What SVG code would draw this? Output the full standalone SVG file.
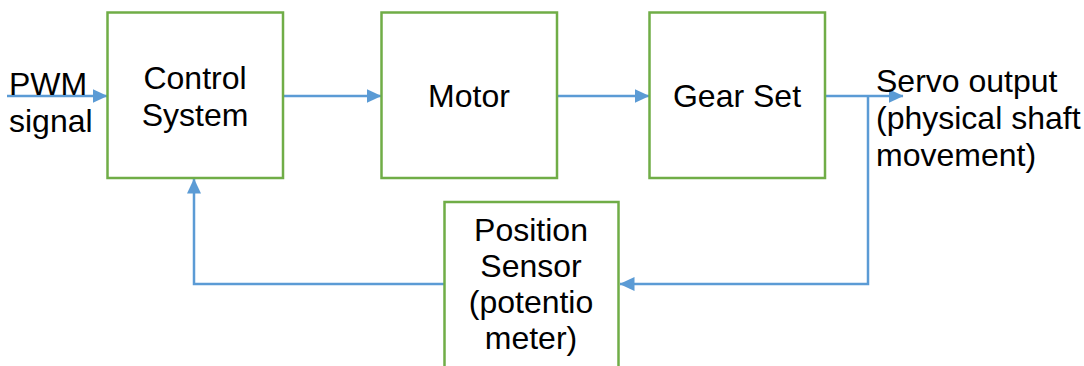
<svg xmlns="http://www.w3.org/2000/svg" width="1084" height="366" viewBox="0 0 1084 366">
<style>
.box{fill:#fff;stroke:#70AD47;stroke-width:2.5}
.lbl{font-family:"Liberation Sans",Arial,sans-serif;font-size:32px;fill:#000}
.mid{text-anchor:middle}
.conn{fill:none;stroke:#5B9BD5;stroke-width:2.5}
</style>
<defs>
<marker id="arr" markerUnits="userSpaceOnUse" markerWidth="15" markerHeight="15" viewBox="0 0 15 14" refX="14.5" refY="7" orient="auto">
<path d="M0,0 L15,7 L0,14 z" fill="#5B9BD5"/>
</marker>
</defs>
<g id="connectors">
<path class="conn" d="M7,96 H107" marker-end="url(#arr)"/>
<path class="conn" d="M283,96 H381" marker-end="url(#arr)"/>
<path class="conn" d="M557,96 H649" marker-end="url(#arr)"/>
<path class="conn" d="M825,96 H903" marker-end="url(#arr)"/>
<path class="conn" d="M868,96 V284 H620" marker-end="url(#arr)"/>
<path class="conn" d="M444,284 H194 V179" marker-end="url(#arr)"/>
</g>
<g id="control-system">
<rect class="box" x="107.5" y="12.5" width="175.5" height="165.5"/>
<text class="lbl mid" x="195" y="89">Control</text>
<text class="lbl mid" x="195" y="126">System</text>
</g>
<g id="motor">
<rect class="box" x="381.5" y="12.5" width="175.5" height="165.5"/>
<text class="lbl mid" x="469" y="107">Motor</text>
</g>
<g id="gear-set">
<rect class="box" x="649.5" y="12.5" width="175.5" height="165.5"/>
<text class="lbl mid" x="737" y="107">Gear Set</text>
</g>
<g id="position-sensor">
<rect class="box" x="444.5" y="202" width="174" height="180"/>
<text class="lbl mid" x="531" y="241">Position</text>
<text class="lbl mid" x="531" y="277">Sensor</text>
<text class="lbl mid" x="531" y="313">(potentio</text>
<text class="lbl mid" x="531" y="349">meter)</text>
</g>
<g id="pwm-signal">
<text class="lbl" x="9" y="95">PWM</text>
<text class="lbl" x="9" y="132">signal</text>
</g>
<g id="servo-output">
<text class="lbl" x="876" y="92">Servo output</text>
<text class="lbl" x="876" y="129">(physical shaft</text>
<text class="lbl" x="876" y="166">movement)</text>
</g>
</svg>
